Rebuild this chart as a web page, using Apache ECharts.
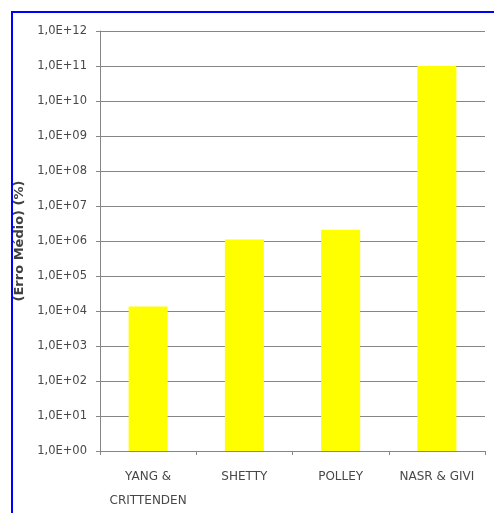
<!DOCTYPE html>
<html>
<head>
<meta charset="utf-8">
<script src="https://cdn.jsdelivr.net/npm/echarts@6/dist/echarts.min.js"></script>
<style>
html,body{margin:0;padding:0;background:#fff;}
#c{width:494px;height:513px;}
</style>
</head>
<body>
<div id="c"></div>
<script>
var categories = ['YANG &\nCRITTENDEN', 'SHETTY', 'POLLEY', 'NASR & GIVI'];
var erroMedio = [1.35e4, 1.1e6, 2.1e6, 1.0e11];
var yAxisName = '(Erro Médio) (%)';

var chart = echarts.init(document.getElementById('c'), null, {renderer: 'canvas'});
var grey = '#868686';
chart.setOption({
  animation: false,
  backgroundColor: '#ffffff',
  graphic: [{
    type: 'polyline',
    shape: {points: [[12, 513], [12, 12], [494, 12]]},
    style: {stroke: '#0000ff', lineWidth: 2, fill: null},
    silent: true
  }],
  grid: {left: 100, right: 9, top: 31, bottom: 62, containLabel: false},
  xAxis: {
    type: 'category',
    data: categories,
    axisLine: {lineStyle: {color: grey, width: 1}},
    axisTick: {show: true, length: 4, lineStyle: {color: grey}},
    axisLabel: {
      color: '#484848',
      fontFamily: 'DejaVu Sans',
      fontSize: 12,
      lineHeight: 24,
      margin: 14,
      interval: 0
    }
  },
  yAxis: {
    type: 'log',
    logBase: 10,
    min: 1,
    max: 1e12,
    interval: 1,
    name: yAxisName,
    nameLocation: 'middle',
    nameRotate: 90,
    nameGap: 70,
    nameTextStyle: {
      color: '#404040',
      fontFamily: 'DejaVu Sans',
      fontWeight: 'bold',
      fontSize: 13
    },
    axisLine: {show: true, lineStyle: {color: grey, width: 1}},
    axisTick: {show: true, length: 4, lineStyle: {color: grey}},
    splitLine: {show: true, lineStyle: {color: grey, width: 1}},
    minorTick: {show: false},
    axisLabel: {
      color: '#484848',
      fontFamily: 'DejaVu Sans',
      fontSize: 11.5,
      margin: 13,
      formatter: function (v) {
        var e = Math.round(Math.log10(v));
        return '1,0E+' + (e < 10 ? '0' + e : '' + e);
      }
    }
  },
  series: [{
    type: 'bar',
    data: erroMedio,
    barWidth: 39,
    itemStyle: {color: '#ffff00'}
  }]
});
</script>
</body>
</html>
